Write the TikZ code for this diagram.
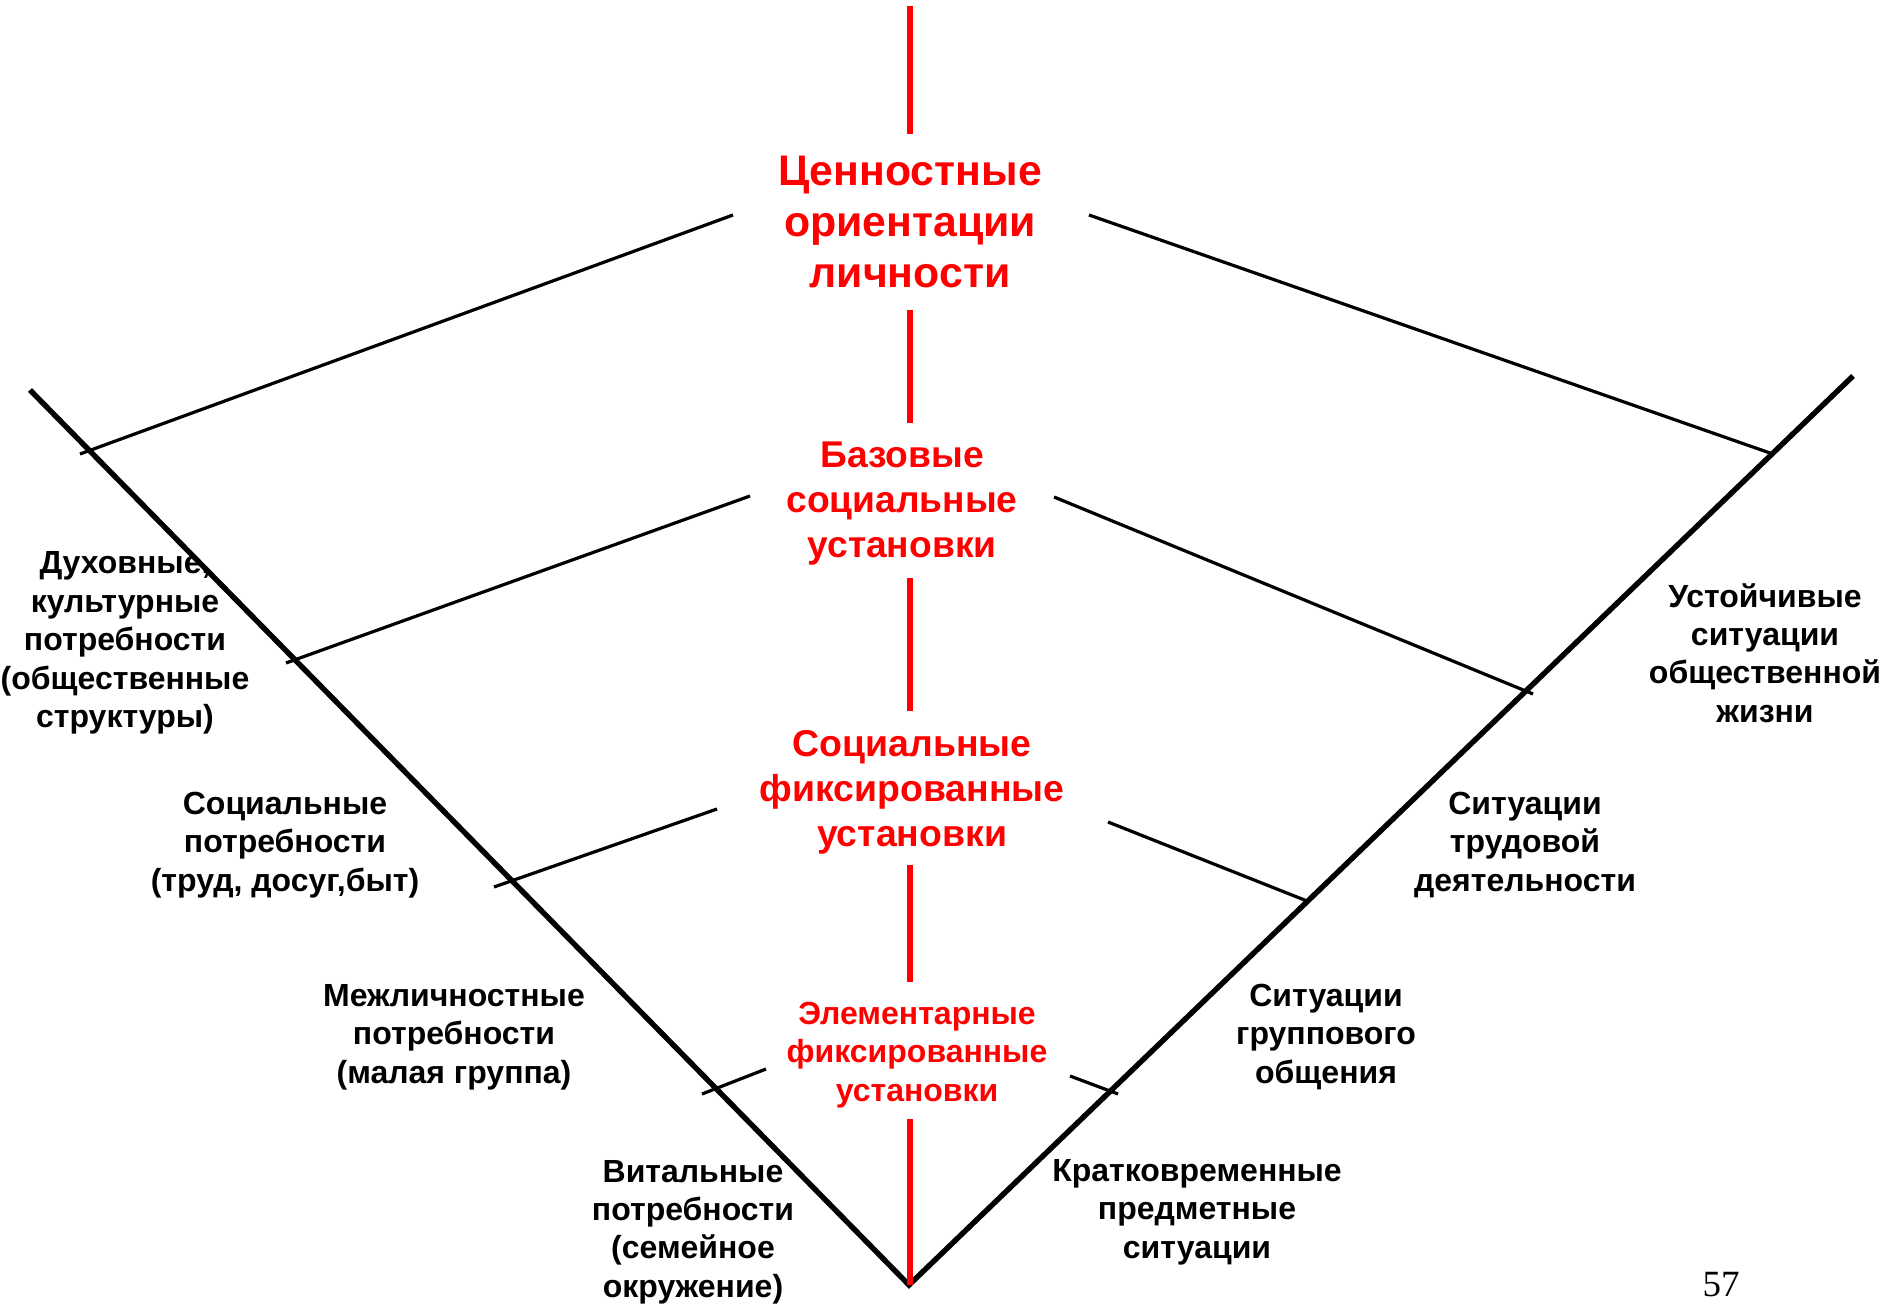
\documentclass[tikz,border=0pt]{standalone}
\usepackage{fontspec}
\setmainfont{Liberation Sans}
\newfontfamily\pagefont{Liberation Serif}
\begin{document}
\begin{tikzpicture}[x=0.5pt,y=-0.5pt,
  redlab/.style={text=red,align=center,inner sep=0pt},
  blacklab/.style={text=black,align=center,inner sep=0pt,font=\bfseries\fontsize{16}{19.2}\selectfont},
  axisline/.style={line width=2.7pt,black,line join=miter},
  tickline/.style={line width=1.6pt,black},
  redline/.style={line width=3.4pt,red}]
\useasboundingbox[fill=white] (0,0) rectangle (1883,1304);

% red labels
\node[redlab,font=\bfseries\fontsize{21.4}{25.5}\selectfont] (c1) at (910,222) {Ценностные\\ориентации\\личности};
\node[redlab,font=\bfseries\fontsize{18.6}{22.5}\selectfont] (c2) at (902,504) {Базовые\\социальные\\установки};
\node[redlab,font=\bfseries\fontsize{18.7}{22.5}\selectfont] (c3) at (912,792) {Социальные\\фиксированные\\установки};
\node[redlab,font=\bfseries\fontsize{16}{19.2}\selectfont] (c4) at (917,1055) {Элементарные\\фиксированные\\установки};

% black labels
\node[blacklab] (l1) at (125,643) {Духовные,\\культурные\\потребности\\(общественные\\структуры)};
\node[blacklab] (l2) at (285,845) {Социальные\\потребности\\(труд, досуг,быт)};
\node[blacklab] (l3) at (454,1037) {Межличностные\\потребности\\(малая группа)};
\node[blacklab] (l4) at (693,1232) {Витальные\\потребности\\(семейное\\окружение)};
\node[blacklab] (r1) at (1765,653) {Устойчивые\\ситуации\\общественной\\жизни};
\node[blacklab] (r2) at (1525,845) {Ситуации\\трудовой\\деятельности};
\node[blacklab] (r3) at (1326,1037) {Ситуации\\группового\\общения};
\node[blacklab] (r4) at (1197,1212) {Кратковременные\\предметные\\ситуации};
\node[inner sep=0pt,font=\pagefont\fontsize{18.5}{22}\selectfont] (pg) at (1721,1285) {57};

% V axes
\coordinate (vl) at (30,390);
\coordinate (apex) at (909,1285);
\coordinate (vr) at (1853,376);
\draw[axisline] (vl) -- (apex) -- (vr);

% red vertical segments
\coordinate (ra0) at (910,6);    \coordinate (ra1) at (910,134);
\coordinate (rb0) at (910,310);  \coordinate (rb1) at (910,423);
\coordinate (rc0) at (910,578);  \coordinate (rc1) at (910,711);
\coordinate (rd0) at (910,865);  \coordinate (rd1) at (910,982);
\coordinate (re0) at (910,1119); \coordinate (re1) at (910,1285);
\draw[redline] (ra0) -- (ra1);
\draw[redline] (rb0) -- (rb1);
\draw[redline] (rc0) -- (rc1);
\draw[redline] (rd0) -- (rd1);
\draw[redline] (re0) -- (re1);

% level ticks
\coordinate (t1l0) at (733,215);  \coordinate (t1l1) at (80,454);
\coordinate (t1r0) at (1089,215); \coordinate (t1r1) at (1770,453);
\coordinate (t2l0) at (750,496);  \coordinate (t2l1) at (286,663);
\coordinate (t2r0) at (1054,497); \coordinate (t2r1) at (1533,694);
\coordinate (t3l0) at (717,809);  \coordinate (t3l1) at (494,887);
\coordinate (t3r0) at (1108,822); \coordinate (t3r1) at (1307,901);
\coordinate (t4l0) at (766,1069); \coordinate (t4l1) at (702,1094);
\coordinate (t4r0) at (1070,1076);\coordinate (t4r1) at (1118,1094);
\draw[tickline] (t1l0) -- (t1l1);
\draw[tickline] (t1r0) -- (t1r1);
\draw[tickline] (t2l0) -- (t2l1);
\draw[tickline] (t2r0) -- (t2r1);
\draw[tickline] (t3l0) -- (t3l1);
\draw[tickline] (t3r0) -- (t3r1);
\draw[tickline] (t4l0) -- (t4l1);
\draw[tickline] (t4r0) -- (t4r1);
\end{tikzpicture}
\end{document}
